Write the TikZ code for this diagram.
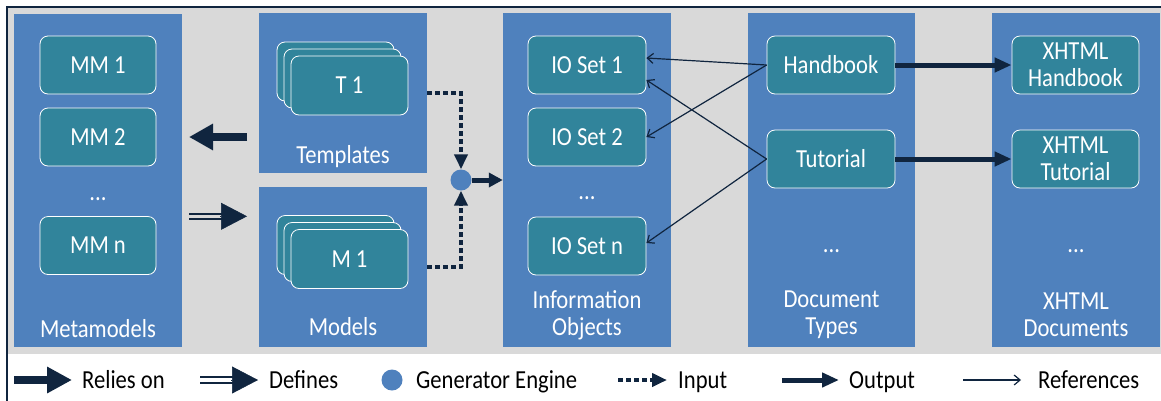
\documentclass[tikz,border=0pt]{standalone}
\usepackage{fontspec}
\setmainfont{Carlito}[FakeStretch=0.87]
\usetikzlibrary{arrows.meta}
\definecolor{panelblue}{HTML}{4F81BD}
\definecolor{boxteal}{HTML}{31849B}
\definecolor{bggray}{HTML}{D9D9D9}
\definecolor{navy}{HTML}{10253F}
\tikzset{
  txt/.style={font=\fontsize{26}{27}\selectfont, inner sep=0pt, align=center},
  plabel/.style={txt, text=white},
  legtext/.style={txt, text=black, anchor=base west},
  panel/.style={fill=panelblue, inner sep=0pt, minimum width=168pt},
  box/.style={txt, draw=white, line width=0.8pt, fill=boxteal, text=white,
    rounded corners=8pt, minimum width=116pt, minimum height=58pt},
  stackbox/.style={box, minimum width=117pt, minimum height=59pt},
  relies/.style={draw=navy, line width=8.5pt, -{Triangle[length=24pt,width=25pt]}},
  defshaft/.style={draw=navy, line width=2pt, double distance=3.5pt, shorten >=24pt},
  deftip/.style={draw=navy, line width=0.5pt, shorten <=31pt, -{Triangle[length=26pt,width=27pt]}},
  inputarrow/.style={draw=navy, line width=4pt, dash pattern=on 5pt off 3pt,
    -{Triangle[length=15pt,width=13pt]}},
  outarrow/.style={draw=navy, line width=5pt, -{Triangle[length=17pt,width=14pt]}},
  refarrow/.style={draw=navy, line width=1.2pt, -{Straight Barb[length=6pt,width=10pt]}},
  engine/.style={circle, fill=panelblue, minimum size=21pt, inner sep=0pt}
}
\begin{document}
\begin{tikzpicture}[x=1pt,y=-1pt]
\useasboundingbox (0,0) rectangle (1161,400);
\clip (0,0) rectangle (1161,400);
\fill[white] (0,0) rectangle (1161,400);
% outer frame and grey canvas
\draw[navy, line width=2pt] (6.5,6.5) rectangle (1175,415);
\fill[bggray] (7.5,7.5) rectangle (1161,354);

% column panels
\node[panel, minimum height=333pt] (meta) at (98,180.5) {};
\node[panel, minimum height=160pt] (tpl) at (343,93) {};
\node[panel, minimum height=160pt] (mdl) at (343,267) {};
\node[panel, minimum height=334pt] (io) at (587,180) {};
\node[panel, minimum width=167pt, minimum height=334pt] (dt) at (831.5,180) {};
\node[panel, minimum height=334pt] (xd) at (1076,180) {};

% metamodels
\node[box] (mm1) at (98,65) {MM 1};
\node[box] (mm2) at (98,137) {MM 2};
\node[plabel, anchor=base] (mmdots) at (98,200) {...};
\node[box] (mmn) at (98,245.5) {MM n};
\node[plabel, anchor=base] (metalbl) at (98,337) {Metamodels};

% templates
\node[stackbox] (tb) at (335.5,71.5) {};
\node[stackbox] (tm) at (342.5,78.5) {};
\node[stackbox] (t1) at (349.5,85.5) {T 1};
\node[plabel, anchor=base] (tpllbl) at (343,163) {Templates};

% models
\node[stackbox] (mb) at (335.5,245) {};
\node[stackbox] (mm) at (342.5,252) {};
\node[stackbox] (m1) at (349.5,259) {M 1};
\node[plabel, anchor=base] (mdllbl) at (343,335) {Models};

% information objects
\node[box, minimum width=118pt] (io1) at (587,65) {IO Set 1};
\node[box, minimum width=118pt] (io2) at (587,137) {IO Set 2};
\node[plabel, anchor=base] (iodots) at (587,199) {...};
\node[box, minimum width=118pt] (ion) at (587,246) {IO Set n};
\node[plabel] (iolbl) at (587,315) {Information\\Objects};

% document types
\node[box, minimum width=128pt] (hb) at (831,65) {Handbook};
\node[box, minimum width=128pt] (tut) at (831,159) {Tutorial};
\node[plabel, anchor=base] (dtdots) at (831.5,252) {...};
\node[plabel] (dtlbl) at (831.5,315) {Document\\Types};

% XHTML documents
\node[box, minimum width=127pt] (xhb) at (1075.5,65) {XHTML\\Handbook};
\node[box, minimum width=127pt] (xtut) at (1075.5,159) {XHTML\\Tutorial};
\node[plabel, anchor=base] (xddots) at (1076,252) {...};
\node[plabel] (xdlbl) at (1076,315) {XHTML\\Documents};

% generator engine and its inputs
\node[engine] (eng) at (461,180) {};
\coordinate (tin) at (427,93);
\coordinate (min) at (427,267);
\draw[inputarrow] (tin) -| (eng.north);
\draw[inputarrow] (min) -| (eng.south);
\draw[outarrow, -{Triangle[length=14pt,width=14pt]}] (eng.east) -- (io.west);

% relies on / defines between metamodels and models
\coordinate (r1) at (247,137);
\coordinate (r2) at (189,137);
\draw[relies] (r1) -- (r2);
\coordinate (d1) at (189,216.3);
\coordinate (d2) at (247,216.3);
\draw[defshaft, double=bggray] (d1) -- (d2);
\draw[deftip] (d1) -- (d2);

% references from document types to information objects
\draw[refarrow] (hb.west) -- ([yshift=7pt]io1.east);
\draw[refarrow] (hb.west) -- (io2.east);
\draw[refarrow] (tut.west) -- ([yshift=-15pt]io1.east);
\draw[refarrow] (tut.west) -- ([yshift=3pt]ion.east);

% outputs
\draw[outarrow] (hb.east) -- (xhb.west);
\draw[outarrow] (tut.east) -- (xtut.west);

% legend
\coordinate (lr1) at (14,380);
\coordinate (lr2) at (72,380);
\draw[relies, -{Triangle[length=25pt,width=25pt]}] (lr1) -- (lr2);
\node[legtext] (lgrel) at (82,388) {Relies on};

\coordinate (ld1) at (200,380);
\coordinate (ld2) at (258,380);
\draw[defshaft, double=white] (ld1) -- (ld2);
\draw[deftip] (ld1) -- (ld2);
\node[legtext] (lgdef) at (269,388) {Defines};

\node[engine] (lgeng) at (392,380) {};
\node[legtext] (lggen) at (416,388) {Generator Engine};

\coordinate (li1) at (618,380);
\coordinate (li2) at (667,380);
\draw[inputarrow] (li1) -- (li2);
\node[legtext] (lginp) at (678,388) {Input};

\coordinate (lo1) at (782,380);
\coordinate (lo2) at (839,380);
\draw[outarrow] (lo1) -- (lo2);
\node[legtext] (lgout) at (849,388) {Output};

\coordinate (lf1) at (963,380);
\coordinate (lf2) at (1021,380);
\draw[refarrow] (lf1) -- (lf2);
\node[legtext] (lgref) at (1038,388) {References};
\end{tikzpicture}
\end{document}
